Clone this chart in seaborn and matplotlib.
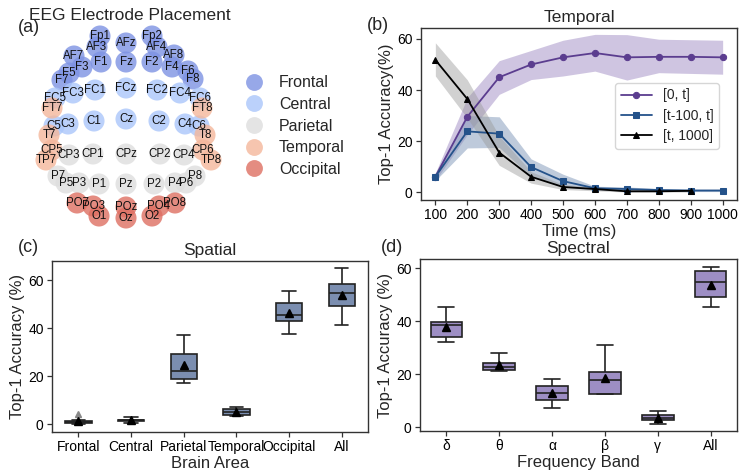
import numpy as np
import pandas as pd
import matplotlib.pyplot as plt
import seaborn as sns

# ---- panel (a): electrode layout (head-centred coords, y up) ----
electrodes = ['Fp1', 'Fp2', 'AF3', 'AFz', 'AF4', 'AF7', 'AF8', 'F1', 'Fz', 'F2',
              'F3', 'F4', 'F5', 'F6', 'F7', 'F8',
              'FC1', 'FCz', 'FC2', 'FC3', 'FC4', 'FC5', 'FC6',
              'C1', 'Cz', 'C2', 'C3', 'C4', 'C5', 'C6',
              'FT7', 'FT8', 'T7', 'T8', 'CP5', 'CP6', 'TP7', 'TP8',
              'CP1', 'CPz', 'CP2', 'CP3', 'CP4',
              'P1', 'Pz', 'P2', 'P3', 'P4', 'P5', 'P6', 'P7', 'P8',
              'PO7', 'PO3', 'POz', 'PO4', 'PO8', 'O1', 'Oz', 'O2']
elec_x = [-26, 26, -29, 0, 31, -52, 48, -25, 0, 26,
          -44, 46, -57, 62, -64, 67,
          -31, 0, 31, -53, 54, -71, 74,
          -32, 0, 33, -58, 59, -72, 73,
          -74, 76, -77, 79, -74, 77, -80, 85,
          -33, 0, 34, -57, 58,
          -27, 0, 28, -47, 49, -60, 60, -68, 69,
          -49, -33, 0, 33, 49, -27, 0, 26]
elec_y = [84, 84, 73, 77, 73, 64, 65, 58, 58, 58,
          53, 53, 47, 49, 40, 41,
          30, 32, 30, 27, 27, 22, 22,
          -1, 1, -1, -4, -4, -6, -6,
          12, 12, -15, -15, -30, -30, -40, -40,
          -34, -34, -34, -35, -35,
          -64, -64, -64, -63, -63, -63, -63, -56, -56,
          -83, -86, -87, -86, -83, -96, -98, -96]
elec_region = (['Frontal'] * 16 + ['Central'] * 14 + ['Temporal'] * 8
               + ['Parietal'] * 14 + ['Occipital'] * 8)
regions = ['Frontal', 'Central', 'Parietal', 'Temporal', 'Occipital']
region_colors = ['#7d92e3', '#aac6fa', '#dedede', '#f4b79b', '#de6f62']

# ---- panel (b): temporal ----
times = [100, 200, 300, 400, 500, 600, 700, 800, 900, 1000]
acc_0t = [6.0, 29.5, 45.0, 50.0, 52.8, 54.5, 52.8, 53.0, 53.0, 52.8]
acc_0t_lo = [4.5, 22.5, 38.3, 44.1, 45.5, 47.4, 43.9, 46.8, 46.5, 46.2]
acc_0t_hi = [7.5, 37.0, 51.5, 55.5, 59.5, 61.8, 61.7, 59.9, 59.7, 59.5]
acc_win = [6.0, 23.8, 22.9, 9.8, 4.3, 1.5, 1.2, 0.8, 0.6, 0.6]
acc_win_lo = [4.5, 17.3, 17.5, 6.0, 2.0, 0.8, 0.5, 0.3, 0.2, 0.2]
acc_win_hi = [7.5, 30.0, 29.5, 13.0, 7.0, 2.3, 2.0, 1.4, 1.2, 1.2]
times_tail = [100, 200, 300, 400, 500, 600, 700, 800, 900]
acc_tail = [51.8, 36.5, 15.5, 6.0, 2.0, 1.2, 0.3, 0.3, 0.5]
acc_tail_lo = [45.5, 29.0, 10.5, 3.5, 1.0, 0.5, 0.0, 0.0, 0.0]
acc_tail_hi = [58.5, 44.0, 22.0, 8.0, 3.0, 2.0, 1.0, 1.0, 1.0]

# ---- panel (c): spatial (10 runs per brain area) ----
areas = ['Frontal', 'Central', 'Parietal', 'Temporal', 'Occipital', 'All']
spatial_acc = {
    'Frontal': [0.1, 0.4, 0.55, 0.75, 0.8, 1.0, 1.25, 1.35, 1.6, 4.0],
    'Central': [0.5, 0.9, 1.05, 1.25, 1.4, 1.6, 1.85, 1.92, 2.3, 2.8],
    'Parietal': [17.0, 18.0, 18.8, 19.6, 21.5, 22.5, 28.8, 29.33, 32.47, 37.0],
    'Temporal': [3.5, 3.6, 3.75, 3.95, 4.8, 5.2, 6.1, 6.23, 6.5, 7.0],
    'Occipital': [37.5, 40.0, 42.5, 43.7, 45.0, 46.0, 50.2, 50.73, 53.87, 55.5],
    'All': [41.5, 47.0, 48.9, 50.1, 54.1, 55.1, 58.0, 58.4, 61.9, 65.0],
}

# ---- panel (d): spectral ----
bands = ['δ', 'θ', 'α', 'β', 'γ', 'All']
spectral_acc = {
    'δ': [32.2, 33.0, 33.5, 34.7, 38.2, 38.8, 39.6, 39.87, 42.93, 45.2],
    'θ': [21.3, 21.4, 21.45, 21.65, 22.5, 23.1, 24.0, 24.27, 25.53, 27.8],
    'α': [7.0, 9.5, 9.8, 11.0, 12.4, 13.2, 15.4, 15.67, 17.0, 18.0],
    'β': [12.4, 12.45, 12.5, 12.9, 17.0, 18.4, 20.5, 21.03, 25.8, 31.0],
    'γ': [1.0, 1.2, 2.4, 2.8, 3.3, 3.7, 4.4, 4.53, 4.6, 6.0],
    'All': [45.2, 45.3, 48.5, 50.1, 54.3, 55.1, 58.9, 59.03, 59.07, 60.5],
}

sns.set_theme(style="ticks")
plt.rcParams['font.family'] = ['Liberation Sans', 'DejaVu Sans']
plt.rcParams['axes.edgecolor'] = '#333333'
plt.rcParams['axes.linewidth'] = 1.0
plt.rcParams['xtick.color'] = '#333333'
plt.rcParams['ytick.color'] = '#333333'
plt.rcParams['xtick.labelcolor'] = 'black'
plt.rcParams['ytick.labelcolor'] = 'black'
plt.rcParams['xtick.major.size'] = 3.5
plt.rcParams['ytick.major.size'] = 3.5
plt.rcParams['xtick.major.pad'] = 2.5
plt.rcParams['ytick.major.pad'] = 2.5
plt.rcParams['xtick.major.width'] = 0.9
plt.rcParams['ytick.major.width'] = 0.9

W, H = 739, 470
fig = plt.figure(figsize=(W / 100, H / 100), dpi=100)


def box(l, t, r, b):
    return [l / W, 1 - b / H, (r - l) / W, (b - t) / H]


# (a) electrode placement
ax_a = fig.add_axes(box(0, 20, 360, 235))
elec_df = pd.DataFrame({'x': elec_x, 'y': elec_y, 'region': elec_region,
                        'name': electrodes})
sns.scatterplot(data=elec_df, x='x', y='y', hue='region', hue_order=regions,
                palette=region_colors, s=230, alpha=0.8, linewidth=0, ax=ax_a)
for _, row in elec_df.iterrows():
    ax_a.text(row['x'], row['y'], row['name'], ha='center', va='center',
              fontsize=8.3, color='#111111')
ax_a.set_xlim(-126, 234)
ax_a.set_ylim(-115, 100)
ax_a.axis('off')
ax_a.legend(loc='upper left', bbox_to_anchor=(0.62, 0.81), frameon=False,
            fontsize=11.5, labelspacing=0.42, markerscale=0.8,
            handletextpad=0.6)
fig.text(130 / W, 1 - 15 / H, 'EEG Electrode Placement', ha='center',
         va='center', fontsize=12.5)

# (b) temporal
ax_b = fig.add_axes(box(421, 28, 737, 200))
purple, navy = '#5b3d8f', '#24528a'
ax_b.fill_between(times, acc_0t_lo, acc_0t_hi, color='#a08cc4', alpha=0.5, lw=0)
ax_b.fill_between(times, acc_win_lo, acc_win_hi, color='#7e96b8', alpha=0.5, lw=0)
ax_b.fill_between(times_tail, acc_tail_lo, acc_tail_hi, color='#9a9a9a', alpha=0.45, lw=0)
sns.lineplot(x=times, y=acc_0t, marker='o', markersize=4.5, color=purple,
             markeredgecolor=purple, lw=1.3, label='[0, t]', ax=ax_b)
sns.lineplot(x=times, y=acc_win, marker='s', markersize=4.5, color=navy,
             markeredgecolor=navy, lw=1.3, label='[t-100, t]', ax=ax_b)
sns.lineplot(x=times_tail, y=acc_tail, marker='^', markersize=5, color='black',
             markeredgecolor='black', lw=1.3, label='[t, 1000]', ax=ax_b)
ax_b.set_xticks(times)
ax_b.set_yticks([0, 20, 40, 60])
ax_b.set_xlim(55, 1045)
ax_b.set_ylim(-3.1, 64.3)
ax_b.tick_params(labelsize=10)
ax_b.set_xlabel('Time (ms)', fontsize=12, labelpad=1)
ax_b.set_ylabel('Top-1 Accuracy(%)', fontsize=12, labelpad=2)
ax_b.set_title('Temporal', fontsize=12.5, pad=4)
ax_b.legend(loc='center right', bbox_to_anchor=(0.965, 0.49), fontsize=10,
            handlelength=2.2, labelspacing=0.45)


def draw_boxes(ax, acc, order, color, width):
    df = pd.DataFrame([(k, v) for k in order for v in acc[k]],
                      columns=['group', 'acc'])
    sns.boxplot(data=df, x='group', y='acc', order=order, color=color,
                saturation=1, width=width, linecolor='#222222', linewidth=1.2,
                showmeans=True,
                meanprops=dict(marker='^', markerfacecolor='black',
                               markeredgecolor='black', markersize=6),
                flierprops=dict(marker='^', markerfacecolor='#888888',
                                markeredgecolor='#888888', markersize=5),
                ax=ax)
    ax.tick_params(labelsize=10)


# (c) spatial
ax_c = fig.add_axes(box(52, 261, 368, 432))
draw_boxes(ax_c, spatial_acc, areas, '#7b8eb0', 0.5)
ax_c.set_yticks([0, 20, 40, 60])
ax_c.set_ylim(-3.3, 68)
ax_c.set_xlabel('Brain Area', fontsize=12, labelpad=1)
ax_c.set_ylabel('Top-1 Accuracy (%)', fontsize=12, labelpad=2)
ax_c.set_title('Spatial', fontsize=12.5, pad=4)

# (d) spectral
ax_d = fig.add_axes(box(420, 259, 737, 431))
draw_boxes(ax_d, spectral_acc, bands, '#9d8ec4', 0.6)
ax_d.set_yticks([0, 20, 40, 60])
ax_d.set_ylim(-1.5, 63.4)
ax_d.set_xlabel('Frequency Band', fontsize=12, labelpad=1)
ax_d.set_ylabel('Top-1 Accuracy (%)', fontsize=12, labelpad=2)
ax_d.set_title('Spectral', fontsize=12.5, pad=4)

for lab, px, py in [('(a)', 29, 27), ('(b)', 378, 25), ('(c)', 28, 247), ('(d)', 392, 247)]:
    fig.text(px / W, 1 - py / H, lab, ha='center', va='center', fontsize=13)

fig.savefig('out.png', dpi=100)
